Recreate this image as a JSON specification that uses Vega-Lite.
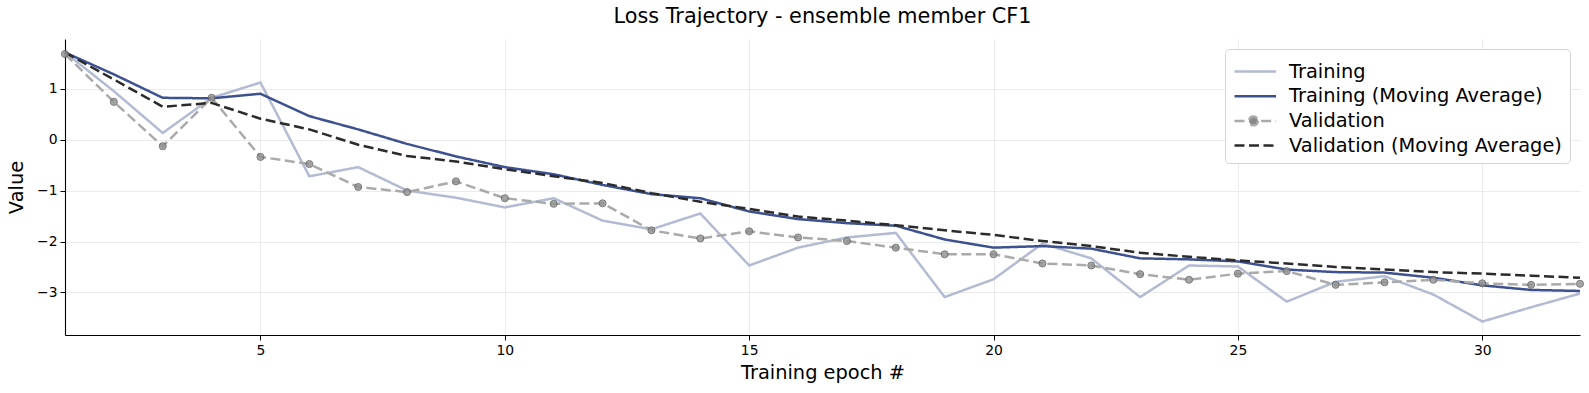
{
  "$schema": "https://vega.github.io/schema/vega-lite/v6.json",
  "width": 1515,
  "height": 296,
  "autosize": {"type": "none"},
  "padding": {"left": 65, "top": 39, "right": 9, "bottom": 58},
  "background": "white",
  "title": {"text": "Loss Trajectory - ensemble member CF1", "font": "DejaVu Sans", "fontSize": 20.8, "fontWeight": "normal", "color": "#000000", "anchor": "middle", "offset": 11},
  "config": {
    "view": {"stroke": null},
    "axis": {"labelFont": "DejaVu Sans", "titleFont": "DejaVu Sans", "labelFontSize": 13.9, "titleFontSize": 19.4, "titleFontWeight": "normal", "labelColor": "#000000", "titleColor": "#000000", "domainColor": "#000000", "domainWidth": 1.1, "tickColor": "#000000", "tickSize": 5, "labelPadding": 3, "gridColor": "#ebebeb", "gridWidth": 1}
  },
  "data": {"values": [
    {"epoch": 1, "Training": 1.71, "Training (Moving Average)": 1.71, "Validation": 1.68, "Validation (Moving Average)": 1.71},
    {"epoch": 2, "Training": 0.95, "Training (Moving Average)": 1.28, "Validation": 0.74, "Validation (Moving Average)": 1.18},
    {"epoch": 3, "Training": 0.13, "Training (Moving Average)": 0.82, "Validation": -0.13, "Validation (Moving Average)": 0.645},
    {"epoch": 4, "Training": 0.82, "Training (Moving Average)": 0.81, "Validation": 0.82, "Validation (Moving Average)": 0.72},
    {"epoch": 5, "Training": 1.12, "Training (Moving Average)": 0.90, "Validation": -0.34, "Validation (Moving Average)": 0.41},
    {"epoch": 6, "Training": -0.72, "Training (Moving Average)": 0.46, "Validation": -0.48, "Validation (Moving Average)": 0.20},
    {"epoch": 7, "Training": -0.54, "Training (Moving Average)": 0.20, "Validation": -0.93, "Validation (Moving Average)": -0.10},
    {"epoch": 8, "Training": -1.0, "Training (Moving Average)": -0.085, "Validation": -1.03, "Validation (Moving Average)": -0.32},
    {"epoch": 9, "Training": -1.14, "Training (Moving Average)": -0.33, "Validation": -0.82, "Validation (Moving Average)": -0.43},
    {"epoch": 10, "Training": -1.33, "Training (Moving Average)": -0.54, "Validation": -1.15, "Validation (Moving Average)": -0.58},
    {"epoch": 11, "Training": -1.15, "Training (Moving Average)": -0.68, "Validation": -1.26, "Validation (Moving Average)": -0.72},
    {"epoch": 12, "Training": -1.59, "Training (Moving Average)": -0.89, "Validation": -1.25, "Validation (Moving Average)": -0.85},
    {"epoch": 13, "Training": -1.76, "Training (Moving Average)": -1.07, "Validation": -1.78, "Validation (Moving Average)": -1.05},
    {"epoch": 14, "Training": -1.45, "Training (Moving Average)": -1.15, "Validation": -1.94, "Validation (Moving Average)": -1.22},
    {"epoch": 15, "Training": -2.47, "Training (Moving Average)": -1.41, "Validation": -1.80, "Validation (Moving Average)": -1.36},
    {"epoch": 16, "Training": -2.12, "Training (Moving Average)": -1.56, "Validation": -1.92, "Validation (Moving Average)": -1.51},
    {"epoch": 17, "Training": -1.92, "Training (Moving Average)": -1.64, "Validation": -1.99, "Validation (Moving Average)": -1.59},
    {"epoch": 18, "Training": -1.83, "Training (Moving Average)": -1.69, "Validation": -2.12, "Validation (Moving Average)": -1.68},
    {"epoch": 19, "Training": -3.09, "Training (Moving Average)": -1.96, "Validation": -2.25, "Validation (Moving Average)": -1.78},
    {"epoch": 20, "Training": -2.74, "Training (Moving Average)": -2.12, "Validation": -2.25, "Validation (Moving Average)": -1.87},
    {"epoch": 21, "Training": -2.04, "Training (Moving Average)": -2.09, "Validation": -2.43, "Validation (Moving Average)": -1.99},
    {"epoch": 22, "Training": -2.33, "Training (Moving Average)": -2.14, "Validation": -2.47, "Validation (Moving Average)": -2.09},
    {"epoch": 23, "Training": -3.09, "Training (Moving Average)": -2.33, "Validation": -2.64, "Validation (Moving Average)": -2.22},
    {"epoch": 24, "Training": -2.47, "Training (Moving Average)": -2.35, "Validation": -2.75, "Validation (Moving Average)": -2.30},
    {"epoch": 25, "Training": -2.49, "Training (Moving Average)": -2.39, "Validation": -2.63, "Validation (Moving Average)": -2.37},
    {"epoch": 26, "Training": -3.18, "Training (Moving Average)": -2.55, "Validation": -2.58, "Validation (Moving Average)": -2.43},
    {"epoch": 27, "Training": -2.79, "Training (Moving Average)": -2.60, "Validation": -2.85, "Validation (Moving Average)": -2.50},
    {"epoch": 28, "Training": -2.68, "Training (Moving Average)": -2.61, "Validation": -2.80, "Validation (Moving Average)": -2.55},
    {"epoch": 29, "Training": -3.04, "Training (Moving Average)": -2.71, "Validation": -2.75, "Validation (Moving Average)": -2.60},
    {"epoch": 30, "Training": -3.57, "Training (Moving Average)": -2.86, "Validation": -2.82, "Validation (Moving Average)": -2.63},
    {"epoch": 31, "Training": -3.29, "Training (Moving Average)": -2.95, "Validation": -2.85, "Validation (Moving Average)": -2.67},
    {"epoch": 32, "Training": -3.02, "Training (Moving Average)": -2.97, "Validation": -2.83, "Validation (Moving Average)": -2.71}
  ]},
  "transform": [
    {"fold": ["Training", "Training (Moving Average)", "Validation", "Validation (Moving Average)"], "as": ["series", "value"]}
  ],
  "encoding": {
    "x": {"field": "epoch", "type": "quantitative", "scale": {"domain": [1, 32], "nice": false, "zero": false}, "axis": {"values": [5, 10, 15, 20, 25, 30], "title": "Training epoch #", "titlePadding": 7, "grid": true}},
    "y": {"field": "value", "type": "quantitative", "scale": {"domain": [-3.834, 1.974], "nice": false, "zero": false}, "axis": {"values": [-3, -2, -1, 0, 1], "title": "Value", "titlePadding": 10, "grid": true}}
  },
  "layer": [
    {
      "mark": {"type": "line", "strokeWidth": 2.5},
      "encoding": {
        "color": {"field": "series", "type": "nominal", "scale": {"domain": ["Training", "Training (Moving Average)", "Validation", "Validation (Moving Average)"], "range": ["#b3bbd3", "#3d5191", "#aaaaaa", "#2b2b2b"]},
          "legend": {"title": null, "orient": "top-right", "offset": 10, "symbolType": "stroke", "symbolSize": 676, "symbolStrokeWidth": 2.5, "labelFont": "DejaVu Sans", "labelFontSize": 19.4, "labelColor": "#000000", "labelOffset": 27, "labelLimit": 500, "fillColor": "white", "strokeColor": "#d5d5d5", "cornerRadius": 4, "padding": 8, "rowPadding": 0.7,
            "encode": {"symbols": {"update": {
              "shape": {"signal": "datum.value === 'Validation' ? 'M-1,0H-0.05M1.05,0H2.2M0.8,0A0.34,0.34 0 1 1 0.12,0A0.34,0.34 0 1 1 0.8,0' : 'M-1,0H2.2'"},
              "strokeDash": {"signal": "datum.value === 'Validation (Moving Average)' ? [10, 4.5] : [1, 0]"},
              "fill": {"signal": "datum.value === 'Validation' ? '#8a8a8a' : 'transparent'"},
              "fillOpacity": {"value": 1}
            }}}}},
        "strokeDash": {"field": "series", "type": "nominal", "scale": {"domain": ["Training", "Training (Moving Average)", "Validation", "Validation (Moving Average)"], "range": [[1, 0], [1, 0], [10, 4.5], [10, 4.5]]}, "legend": null},
        "order": {"field": "epoch", "type": "quantitative"}
      }
    },
    {
      "transform": [{"filter": "datum.series === 'Validation'"}],
      "mark": {"type": "point", "filled": true, "size": 50, "color": "#8f8f8f", "opacity": 0.8, "stroke": "#5f5f5f", "strokeWidth": 1}
    }
  ]
}
